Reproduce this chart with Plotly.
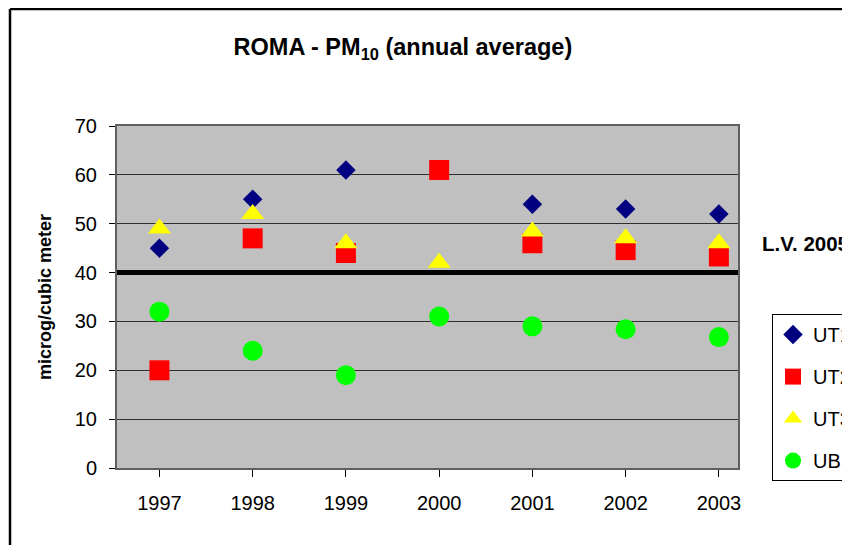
import plotly.graph_objects as go

# PM10 annual averages, Roma (microg/m3)
YEARS = [1997, 1998, 1999, 2000, 2001, 2002, 2003]
UT1 = [45, 55, 61, None, 54, 53, 52]
UT2 = [20, 47, 44, 61, 46, 44.6, 43.3]
UT3 = [49, 52, 46, 42, 48.4, 47, 46]
UB = [32, 24, 19, 31, 29, 28.4, 26.8]
LIMIT_VALUE = 40
LIMIT_LABEL = "L.V. 2005"

FONT = "Liberation Sans, Arial, sans-serif"

series = [
    ("UT1", UT1, "diamond", "#000080", 15),
    ("UT2", UT2, "square", "#FF0000", 20),
    ("UT3", UT3, "triangle-up", "#FFFF00", 20),
    ("UB", UB, "circle", "#00FF00", 20),
]

fig = go.Figure()
for name, vals, symbol, color, size in series:
    fig.add_trace(go.Scatter(
        x=YEARS, y=vals, name=name, mode="markers", legendgroup=name,
        marker=dict(symbol=symbol, color=color, size=size, line=dict(width=0)),
    ))

# limit value line
fig.add_hline(y=LIMIT_VALUE, line_color="black", line_width=5, layer="above")
fig.add_annotation(
    x=1.035, xref="paper", y=LIMIT_VALUE + 6, yref="y", text=f"<b>{LIMIT_LABEL}</b>",
    showarrow=False, xanchor="left", yanchor="middle",
    font=dict(size=20.5, color="black", family=FONT),
)

# slide frame remnants: black border lines
fig.add_shape(type="line", xref="paper", yref="paper", x0=-0.1723, x1=-0.1723,
              y0=1.342, y1=-0.23, line=dict(color="black", width=2.5))
fig.add_shape(type="line", xref="paper", yref="paper", x0=-0.1723, x1=1.25,
              y0=1.342, y1=1.342, line=dict(color="black", width=2.5))
fig.add_shape(type="rect", xref="paper", yref="paper", x0=-0.19, x1=-0.1765,
              y0=1.0, y1=1.0965, line=dict(width=0), fillcolor="#9BAE2A")

# page body adds an 8px margin, so the figure is 8px smaller each way
fig.update_layout(
    width=842, height=537,
    margin=dict(l=109, r=112, t=118, b=77, autoexpand=False),
    paper_bgcolor="white", plot_bgcolor="#C0C0C0",
    font=dict(family=FONT, size=20, color="black"),
    title=dict(
        text="<b>ROMA - PM<sub>10</sub> (annual average)</b>",
        x=0.469, xref="container", xanchor="center",
        y=1 - 39 / 537, yref="container", yanchor="middle",
        font=dict(size=23.5, family=FONT, color="black"),
    ),
    showlegend=True,
    legend=dict(
        x=1.0548, xanchor="left", y=0.45, yanchor="top",
        bgcolor="white", bordercolor="black", borderwidth=1,
        font=dict(size=20, family=FONT), tracegroupgap=13,
        itemsizing="trace",
    ),
)
fig.update_xaxes(
    range=[1996.545, 2003.205], tickvals=YEARS, ticktext=[str(y) for y in YEARS],
    ticks="outside", ticklen=7, tickcolor="black", ticklabelstandoff=9,
    showgrid=False, zeroline=False,
    showline=True, linecolor="#606060", linewidth=2, mirror=True,
)
fig.update_yaxes(
    range=[0, 70], dtick=10, ticks="outside", ticklen=6, tickcolor="black",
    ticklabelstandoff=8,
    showgrid=True, gridcolor="#303030", gridwidth=1, zeroline=False,
    showline=True, linecolor="#606060", linewidth=2, mirror=True,
    title=dict(text="<b>microg/cubic meter</b>", standoff=18,
               font=dict(size=18, family=FONT)),
)

fig.write_html("out.html")
